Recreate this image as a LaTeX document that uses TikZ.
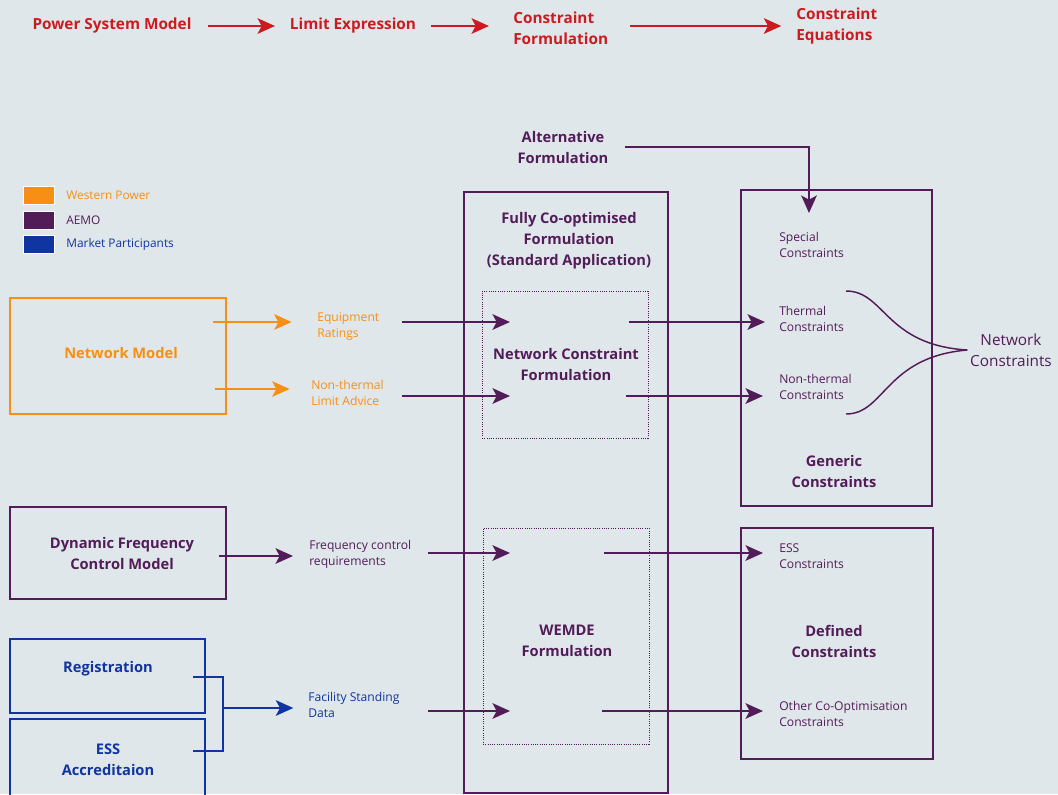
\documentclass[tikz,border=0pt]{standalone}
\usepackage{fontspec}
\setmainfont{Open Sans}
\usetikzlibrary{arrows.meta,calc,fit,positioning}
\definecolor{bgc}{RGB}{224,231,234}
\definecolor{wpred}{RGB}{204,27,32}
\definecolor{wporange}{RGB}{247,143,20}
\definecolor{aemo}{RGB}{82,28,88}
\definecolor{mpblue}{RGB}{16,52,160}

\begin{document}
\begin{tikzpicture}[x=0.75pt,y=-0.75pt,>={Stealth[length=13pt,width=11.5pt,inset=3pt]}]
    \tikzstyle{box}=[draw, line width=1.4pt, inner sep=0]
    \tikzstyle{dotbox}=[draw, densely dotted, line width=0.7pt, inner sep=0]
    \tikzstyle{arr}=[->, line width=2.2pt]
    \tikzstyle{head}=[font=\fontsize{11.5}{15.75}\selectfont\bfseries, align=left, inner sep=0]
    \tikzstyle{title}=[font=\fontsize{11}{15.75}\selectfont\bfseries, align=center, inner sep=0]
    \tikzstyle{small}=[font=\fontsize{9.1}{12}\selectfont, align=left, anchor=west, inner sep=0]
    \tikzstyle{key}=[minimum width=23pt, minimum height=13.5pt, inner sep=0, draw=white, line width=0.4pt]

    \fill[bgc] (0,0) rectangle (1058,794);
    \useasboundingbox (0,0) rectangle (1058,794);

    % process chain
    \node[head, text=wpred] (psm) at (112,26) {Power System Model};
    \node[head, text=wpred] (lex) at (353,26) {Limit Expression};
    \node[head, text=wpred, anchor=west] (cfm) at (513,28) {Constraint\\Formulation};
    \node[head, text=wpred, anchor=west] (ceq) at (796,26) {Constraint\\Equations};
    \draw[arr, wpred, shorten <=12pt, shorten >=11pt] (psm) -- (lex);
    \draw[arr, wpred, shorten <=11pt, shorten >=18pt] (lex.east) -- (lex.east -| cfm.west);
    \draw[arr, wpred, shorten <=16pt, shorten >=11pt] (cfm.east |- lex.east) -- (lex.east -| ceq.west);

    % key
    \node[key, fill=wporange] (kwp) at (38.5,195) {};
    \node[key, fill=aemo]     (kae) at (38.5,220) {};
    \node[key, fill=mpblue]   (kmp) at (38.5,244) {};
    \node[small, font=\fontsize{8.9}{10}\selectfont, text=wporange, right=9pt of kwp] (lwp) {Western Power};
    \node[small, font=\fontsize{8.9}{10}\selectfont, text=aemo, right=9pt of kae] (lae) {AEMO};
    \node[small, font=\fontsize{8.9}{10}\selectfont, text=mpblue, right=9pt of kmp] (lmp) {Market Participants};

    % formulation
    \node[title, text=aemo] (alt) at (563,147) {Alternative\\Formulation};
    \coordinate (altEnd) at (809,213);
    \draw[arr, aemo, shorten <=12pt] (alt.east) -| (altEnd);

    \node[box, draw=aemo, fit={(464,192) (668,793)}] (fco) {};
    \node[title, text=aemo] (fcot) at (569,241) {Fully Co-optimised\\Formulation\\(Standard Application)};
    \node[dotbox, draw=aemo, fit={(482,291) (648,438)}] (ncf) {};
    \node[title, text=aemo] (ncft) at (566,364) {Network Constraint\\Formulation};
    \node[dotbox, draw=aemo, fit={(483,528) (649,744)}] (wem) {};
    \node[title, text=aemo] (wemt) at (567,641) {WEMDE\\Formulation};

    % constraints
    \node[box, draw=aemo, fit={(741,190) (932,506)}] (gen) {};
    \node[title, text=aemo] (gent) at (834,471) {Generic\\Constraints};
    \node[box, draw=aemo, fit={(741,528) (933,759)}] (def) {};
    \node[title, text=aemo] (deft) at (834,641) {Defined\\Constraints};

    \node[small, text=aemo] (spc) at (779,245) {Special\\Constraints};
    \node[small, text=aemo] (thc) at (779,319) {Thermal\\Constraints};
    \node[small, text=aemo] (ntc) at (779,387) {Non-thermal\\Constraints};
    \node[small, text=aemo] (essc) at (779,556) {ESS\\Constraints};
    \node[small, text=aemo] (occ) at (779,714) {Other Co-Optimisation\\Constraints};

    \node[font=\fontsize{11.5}{15.75}\selectfont, align=center, text=aemo, inner sep=2pt] (nwc) at (1011,350) {Network\\Constraints};
    \coordinate (brT) at (846,291);
    \coordinate (brB) at (846,414);
    \draw[aemo, line width=1.1pt] (brT) .. controls (885,291) and (885,345) .. (nwc.west);
    \draw[aemo, line width=1.1pt] (brB) .. controls (885,414) and (885,357) .. (nwc.west);

    % inputs
    \node[box, draw=wporange, fit={(10,298) (226,414)}] (nm) {};
    \node[title, text=wporange] (nmt) at (121,353) {Network Model};
    \node[small, text=wporange] (eqr) at (317,326) {Equipment\\Ratings};
    \node[small, text=wporange] (nta) at (311,393) {Non-thermal\\Limit Advice};
    \coordinate (nm1) at (213,322);
    \coordinate (nm2) at (215,389);
    \draw[arr, wporange, shorten >=19pt] (nm1) -- (nm1 -| eqr.west);
    \draw[arr, wporange, shorten >=16pt] (nm2) -- (nm2 -| nta.west);

    \node[box, draw=aemo, fit={(10,507) (226,599)}] (dfc) {};
    \node[title, text=aemo] (dfct) at (122,553) {Dynamic Frequency\\Control Model};
    \node[small, text=aemo] (fcr) at (309,554) {Frequency control\\requirements};
    \coordinate (dfcA) at (219,556);
    \draw[arr, aemo, shorten >=12pt] (dfcA) -- (dfcA -| fcr.west);

    \node[box, draw=mpblue, fit={(10,639) (205,713)}] (regb) {};
    \node[title, text=mpblue] (reg) at (108,669) {Registration};
    \node[box, draw=mpblue, fit={(10,719) (205,800)}] (essb) {};
    \node[title, text=mpblue] (ess) at (108,760) {ESS\\Accreditaion};
    \node[small, text=mpblue] (fsd) at (308,705) {Facility Standing\\Data};
    \coordinate (brR) at (193,677);
    \coordinate (brE) at (193,751);
    \coordinate (brJ) at (223,708);
    \draw[mpblue, line width=2pt] (brR) -| (brJ |- brE) -- (brE);
    \draw[arr, mpblue, shorten >=11pt] (brJ) -- (brJ -| fsd.west);

    % through the formulation boxes
    \coordinate (s1) at (402,322); \coordinate (e1) at (510,322); \coordinate (o1) at (629,322);
    \coordinate (s2) at (402,396); \coordinate (e2) at (510,396); \coordinate (o2) at (626,396);
    \coordinate (s3) at (428,553); \coordinate (e3) at (510,553); \coordinate (o3) at (604,553);
    \coordinate (s4) at (428,711); \coordinate (e4) at (510,711); \coordinate (o4) at (602,711);
    \draw[arr, aemo] (s1) -- (e1);
    \draw[arr, aemo] (s2) -- (e2);
    \draw[arr, aemo] (s3) -- (e3);
    \draw[arr, aemo] (s4) -- (e4);
    \draw[arr, aemo, shorten >=10.5pt] (o1) -- (o1 -| thc.west);
    \draw[arr, aemo, shorten >=12pt] (o2) -- (o2 -| ntc.west);
    \draw[arr, aemo, shorten >=12pt] (o3) -- (o3 -| essc.west);
    \draw[arr, aemo, shorten >=12pt] (o4) -- (o4 -| occ.west);
\end{tikzpicture}
\end{document}
